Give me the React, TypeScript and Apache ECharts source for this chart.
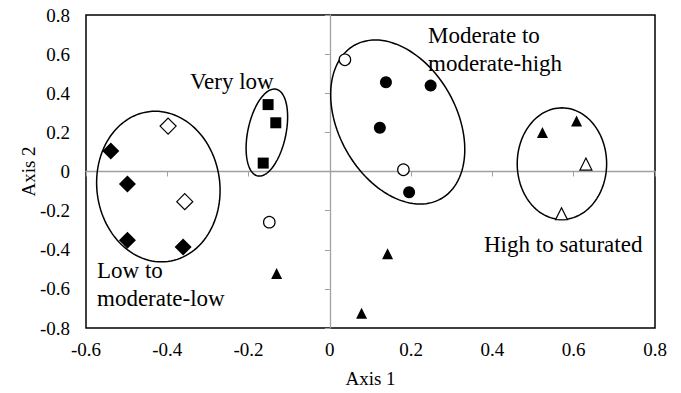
import React, { useEffect, useRef } from "react";
import * as echarts from "echarts";

// ---- data ----
const xTicks = { min: -0.6, max: 0.8, interval: 0.2 };
const yTicks = { min: -0.8, max: 0.8, interval: 0.2 };

const filledDiamonds = [
  [-0.539, 0.105],
  [-0.498, -0.064],
  [-0.498, -0.352],
  [-0.361, -0.386],
];
const openDiamonds = [
  [-0.398, 0.232],
  [-0.357, -0.154],
];
const filledSquares = [
  [-0.152, 0.342],
  [-0.133, 0.249],
  [-0.164, 0.043],
];
const filledCircles = [
  [0.138, 0.456],
  [0.248, 0.439],
  [0.123, 0.224],
  [0.195, -0.106],
];
const openCircles = [
  [0.037, 0.571],
  [0.181, 0.009],
  [-0.149, -0.259],
];
const filledTriangles = [
  [0.523, 0.199],
  [0.607, 0.258],
  [0.142, -0.42],
  [0.078, -0.724],
  [-0.131, -0.521],
];
const openTriangles = [
  [0.63, 0.038],
  [0.57, -0.216],
];

// ellipses: [centerX, centerY, radiusX (x units), radiusY (y units), tilt degrees]
const groupEllipses = [
  [-0.422, -0.077, 0.1513, 0.386, -7.2],
  [-0.155, 0.199, 0.0468, 0.2265, 12],
  [0.167, 0.253, 0.1447, 0.4505, -29.4],
  [0.571, 0.04, 0.11, 0.2854, 0],
];

const groupLabels = [
  { lines: ["Very low"], x: 190, y: 81.5 },
  { lines: ["Moderate to", "moderate-high"], x: 428, y: 35 },
  { lines: ["Low to", "moderate-low"], x: 97, y: 270.5 },
  { lines: ["High to saturated"], x: 484, y: 244 },
];

const FONT = "Liberation Serif";

export default function App() {
  const ref = useRef<HTMLDivElement>(null);

  useEffect(() => {
    if (!ref.current) return;
    const chart = echarts.init(ref.current, null, { renderer: "svg" });

    const filled = { color: "#000", opacity: 1 };
    const open = { color: "#fff", borderColor: "#000", borderWidth: 1.2, opacity: 1 };

    const scatter = (data: number[][], symbol: string, size: number, style: any) => ({
      type: "scatter",
      data,
      symbol,
      symbolSize: size,
      itemStyle: style,
      z: 3,
      silent: true,
    });

    const zeroLine = { color: "#a0a0a0", width: 1.3 };

    const graphics: any[] = [];
    groupLabels.forEach((g) => {
      g.lines.forEach((line, i) => {
        graphics.push({
          type: "text",
          x: g.x,
          y: g.y + i * 28,
          style: {
            text: line,
            font: `23px "${FONT}"`,
            fill: "#000",
            align: "left",
            verticalAlign: "middle",
          },
          z: 10,
        });
      });
    });

    chart.setOption({
      animation: false,
      backgroundColor: "#fff",
      grid: {
        left: 86,
        right: 26,
        top: 15,
        bottom: 63,
        show: true,
        borderColor: "#000",
        borderWidth: 1.5,
        backgroundColor: "transparent",
      },
      xAxis: [
        {
          type: "value",
          ...xTicks,
          position: "bottom",
          axisLine: { show: false, onZero: false },
          axisTick: { show: false },
          splitLine: { show: false },
          axisLabel: { color: "#000", fontFamily: FONT, fontSize: 19, margin: 12 },
          name: "Axis 1",
          nameLocation: "middle",
          nameGap: 41,
          nameMoveOverlap: false,
          nameTextStyle: { color: "#000", fontFamily: FONT, fontSize: 19 },
        },
        {
          type: "value",
          ...xTicks,
          position: "bottom",
          axisLine: { show: true, onZero: true, lineStyle: zeroLine },
          axisTick: { show: true, length: 5, lineStyle: { color: "#a0a0a0", width: 1 } },
          axisLabel: { show: false },
          splitLine: { show: false },
        },
      ],
      yAxis: [
        {
          type: "value",
          ...yTicks,
          position: "left",
          axisLine: { show: false, onZero: false },
          axisTick: { show: false },
          splitLine: { show: false },
          axisLabel: { color: "#000", fontFamily: FONT, fontSize: 19, margin: 16 },
          name: "Axis 2",
          nameLocation: "middle",
          nameGap: 48,
          nameMoveOverlap: false,
          nameTextStyle: { color: "#000", fontFamily: FONT, fontSize: 19 },
        },
        {
          type: "value",
          ...yTicks,
          position: "left",
          axisLine: { show: true, onZero: true, lineStyle: zeroLine },
          axisTick: { show: true, length: 5, lineStyle: { color: "#a0a0a0", width: 1 } },
          axisLabel: { show: false },
          splitLine: { show: false },
        },
      ],
      series: [
        {
          type: "custom",
          data: groupEllipses,
          silent: true,
          clip: false,
          z: 2,
          renderItem: (_params: any, api: any) => {
            const c = api.coord([api.value(0), api.value(1)]);
            const s = api.size([api.value(2), api.value(3)]);
            const phi = (api.value(4) * Math.PI) / 180;
            const cos = Math.cos(phi);
            const sin = Math.sin(phi);
            const pts: number[][] = [];
            const n = 120;
            for (let k = 0; k < n; k++) {
              const t = (2 * Math.PI * k) / n;
              const lx = s[0] * Math.cos(t);
              const ly = s[1] * Math.sin(t);
              pts.push([c[0] + lx * cos - ly * sin, c[1] + lx * sin + ly * cos]);
            }
            return {
              type: "polygon",
              shape: { points: pts },
              style: { fill: "none", stroke: "#000", lineWidth: 1.5 },
            };
          },
        },
        scatter(filledDiamonds, "diamond", 17, filled),
        scatter(openDiamonds, "diamond", 16, open),
        scatter(filledSquares, "rect", 11, filled),
        scatter(filledCircles, "circle", 12, filled),
        scatter(openCircles, "circle", 11.5, open),
        scatter(filledTriangles, "triangle", 11, filled),
        scatter(openTriangles, "triangle", 12, open),
      ],
      graphic: graphics,
    });

    return () => chart.dispose();
  }, []);

  return (
    <div
      ref={ref}
      style={{ position: "fixed", left: 0, top: 0, width: 681, height: 393, background: "#fff" }}
    />
  );
}
